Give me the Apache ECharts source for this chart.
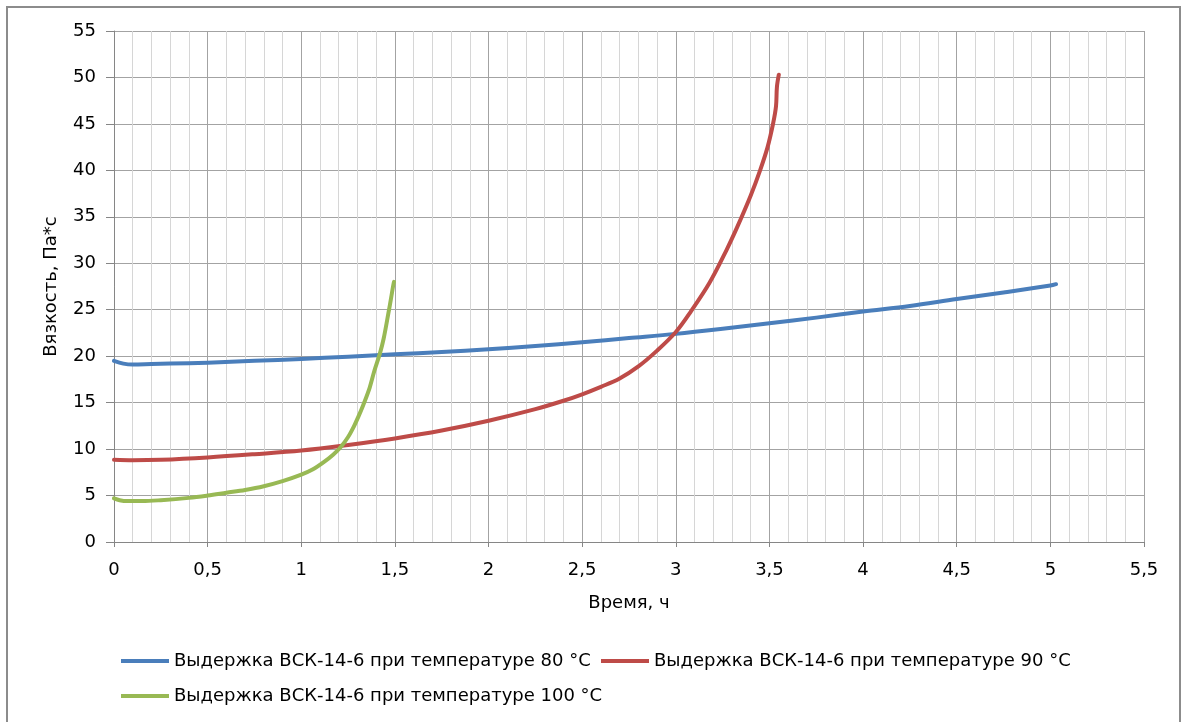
<!DOCTYPE html>
<html>
<head>
<meta charset="utf-8">
<script src="https://cdn.jsdelivr.net/npm/echarts@6/dist/echarts.min.js"></script>
<style>
    html, body { margin: 0; padding: 0; background: #fff; }
    #chart { width: 1182px; height: 722px; }
</style>
</head>
<body>
<div id="chart"></div>
<script>
    // подписи серий
    var names = [
        'Выдержка ВСК-14-6 при температуре 80 °C',
        'Выдержка ВСК-14-6 при температуре 90 °C',
        'Выдержка ВСК-14-6 при температуре 100 °C'
    ];

    // 80 °C : [время, ч ; вязкость, Па*с]
    var t80 = [0, 0.05, 0.1, 0.2, 0.3, 0.5, 0.75, 1.0, 1.25, 1.5, 1.75, 2.0, 2.25, 2.5, 2.75, 3.0, 3.25, 3.5, 3.75, 4.0, 4.25, 4.5, 4.75, 5.0, 5.03];
    var v80 = [19.5, 19.2, 19.1, 19.15, 19.2, 19.3, 19.5, 19.7, 19.95, 20.2, 20.45, 20.75, 21.1, 21.5, 21.95, 22.4, 22.95, 23.55, 24.15, 24.8, 25.4, 26.15, 26.85, 27.6, 27.75];

    // 90 °C
    var t90 = [0, 0.1, 0.25, 0.5, 0.75, 1.0, 1.25, 1.5, 1.75, 2.0, 2.25, 2.4, 2.5, 2.6, 2.7, 2.8, 2.9, 3.0, 3.08, 3.18, 3.27, 3.33, 3.4, 3.45, 3.49, 3.52, 3.535, 3.54, 3.55];
    var v90 = [8.85, 8.8, 8.85, 9.1, 9.45, 9.85, 10.45, 11.15, 12.0, 13.05, 14.3, 15.2, 15.9, 16.7, 17.6, 18.9, 20.6, 22.6, 24.8, 27.9, 31.4, 34.0, 37.3, 40.0, 42.5, 45.1, 46.9, 49.0, 50.3];

    // 100 °C
    var t100 = [0, 0.03, 0.07, 0.15, 0.25, 0.4, 0.5, 0.6, 0.7, 0.8, 0.9, 1.0, 1.06, 1.12, 1.17, 1.21, 1.25, 1.28, 1.305, 1.33, 1.365, 1.39, 1.42, 1.44, 1.465, 1.48, 1.49, 1.495];
    var v100 = [4.7, 4.5, 4.4, 4.4, 4.5, 4.75, 5.0, 5.3, 5.6, 6.0, 6.55, 7.25, 7.8, 8.6, 9.4, 10.2, 11.3, 12.4, 13.5, 14.7, 16.6, 18.4, 20.3, 21.9, 24.6, 26.3, 27.5, 28.0];

    var colors = ['#4a7ebb', '#be4b48', '#98b954'];

    function pairs(xs, ys) {
        var out = [];
        for (var i = 0; i < xs.length; i++) {
            out.push([xs[i], ys[i]]);
        }
        return out;
    }

    function comma(v) {
        return String(v).replace('.', ',');
    }

    var font = 'DejaVu Sans';
    var myChart = echarts.init(document.getElementById('chart'));

    var legendBase = {
        icon: 'rect',
        itemWidth: 48,
        itemHeight: 4,
        itemGap: 4,
        textStyle: { fontFamily: font, fontSize: 18, color: '#000' }
    };

    var option = {
        animation: false,
        backgroundColor: '#fff',
        color: colors,
        graphic: [{
            type: 'rect',
            shape: { x: 7, y: 7, width: 1173, height: 730 },
            style: { fill: 'none', stroke: '#8c8c8c', lineWidth: 2 },
            silent: true
        }],
        grid: {
            left: 114,
            right: 38,
            top: 31,
            bottom: 180
        },
        legend: [
            Object.assign({ data: [names[0]], left: 116, top: 647 }, legendBase),
            Object.assign({ data: [names[1]], left: 596, top: 647 }, legendBase),
            Object.assign({ data: [names[2]], left: 116, top: 682 }, legendBase)
        ],
        xAxis: {
            type: 'value',
            min: 0,
            max: 5.5,
            interval: 0.5,
            name: 'Время, ч',
            nameLocation: 'middle',
            nameGap: 52,
            nameTextStyle: { fontFamily: font, fontSize: 18, color: '#000' },
            axisLine: { show: true, lineStyle: { color: '#868686', width: 1 } },
            axisTick: { show: true, length: 5, lineStyle: { color: '#868686' } },
            axisLabel: {
                margin: 19,
                fontFamily: font,
                fontSize: 18,
                color: '#000',
                formatter: comma
            },
            splitLine: { show: true, lineStyle: { color: '#a3a3a3', width: 1 } },
            minorTick: { show: false, splitNumber: 5 },
            minorSplitLine: { show: true, lineStyle: { color: '#d6d6d6', width: 1 } }
        },
        yAxis: {
            type: 'value',
            min: 0,
            max: 55,
            interval: 5,
            name: 'Вязкость, Па*с',
            nameLocation: 'middle',
            nameGap: 54,
            nameTextStyle: { fontFamily: font, fontSize: 18, color: '#000' },
            axisLine: { show: true, lineStyle: { color: '#868686', width: 1 } },
            axisTick: { show: true, length: 8, lineStyle: { color: '#868686' } },
            axisLabel: {
                margin: 18,
                fontFamily: font,
                fontSize: 18,
                color: '#000'
            },
            splitLine: { show: true, lineStyle: { color: '#a3a3a3', width: 1 } }
        },
        series: [
            { name: names[0], data: pairs(t80, v80) },
            { name: names[1], data: pairs(t90, v90) },
            { name: names[2], data: pairs(t100, v100) }
        ].map(function (s, i) {
            return {
                name: s.name,
                type: 'line',
                data: s.data,
                showSymbol: false,
                smooth: 0.35,
                lineStyle: { width: 4, color: colors[i], cap: 'round', join: 'round' },
                itemStyle: { color: colors[i] }
            };
        })
    };

    myChart.setOption(option);
</script>
</body>
</html>
